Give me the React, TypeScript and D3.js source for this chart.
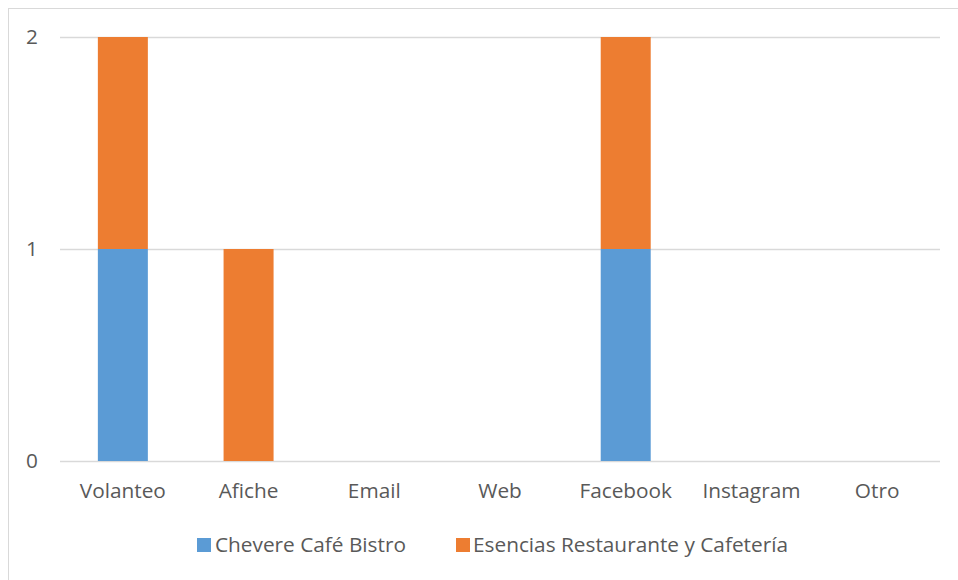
import React from "react";
import * as d3 from "d3";

const categories = ["Volanteo", "Afiche", "Email", "Web", "Facebook", "Instagram", "Otro"];
const chevere = [1, 0, 0, 0, 1, 0, 0];
const esencias = [1, 1, 0, 0, 1, 0, 0];
const seriesNames = ["Chevere Café Bistro", "Esencias Restaurante y Cafetería"];
const seriesColors = ["#5b9bd5", "#ed7d31"];
const yTicks = [0, 1, 2];

const W = 958;
const H = 580;
const FONT = "'Open Sans', Lato, sans-serif";
const FS = 20.8;

export default function App() {
  const y = d3.scaleLinear().domain([0, 2]).range([461, 37]);
  const rows = categories.map((c, i) => ({ cat: c, chevere: chevere[i], esencias: esencias[i] }));
  const stack = d3.stack<any>().keys(["chevere", "esencias"])(rows);
  const band = d3.scaleBand<string>().domain(categories).range([60, 940]);

  return (
    <svg width={W} height={H} style={{ position: "absolute", left: 0, top: 0 }} fontFamily={FONT}>
      <rect x={0} y={0} width={W} height={H} fill="#fff" />
      <rect x={8.5} y={8.5} width={W + 10} height={H + 10} fill="none" stroke="#d9d9d9" strokeWidth={1} />
      {yTicks.map((t) => (
        <g key={t}>
          <line x1={60} x2={940} y1={Math.round(y(t)) + 0.5} y2={Math.round(y(t)) + 0.5} stroke="#d9d9d9" strokeWidth={1.3} />
          <text x={38} y={y(t)} dy="0.35em" textAnchor="end" fontSize={FS} fill="#595959">{t}</text>
        </g>
      ))}
      {stack.map((s, si) => (
        <g key={si} fill={seriesColors[si]}>
          {s.map((d, i) => {
            const h = y(d[0]) - y(d[1]);
            if (h <= 0) return null;
            const cx = (band(categories[i]) as number) + band.bandwidth() / 2;
            return <rect key={i} x={cx - 25} y={y(d[1])} width={50} height={h} />;
          })}
        </g>
      ))}
      {categories.map((c) => (
        <text key={c} x={(band(c) as number) + band.bandwidth() / 2} y={491} dy="0.35em" textAnchor="middle" fontSize={FS} fill="#595959">{c}</text>
      ))}
      <g>
        <rect x={197} y={538} width={14} height={14} fill={seriesColors[0]} />
        <text x={215} y={545} dy="0.35em" fontSize={FS} fill="#595959">{seriesNames[0]}</text>
        <rect x={456} y={538} width={14} height={14} fill={seriesColors[1]} />
        <text x={473} y={545} dy="0.35em" fontSize={FS} fill="#595959">{seriesNames[1]}</text>
      </g>
    </svg>
  );
}
